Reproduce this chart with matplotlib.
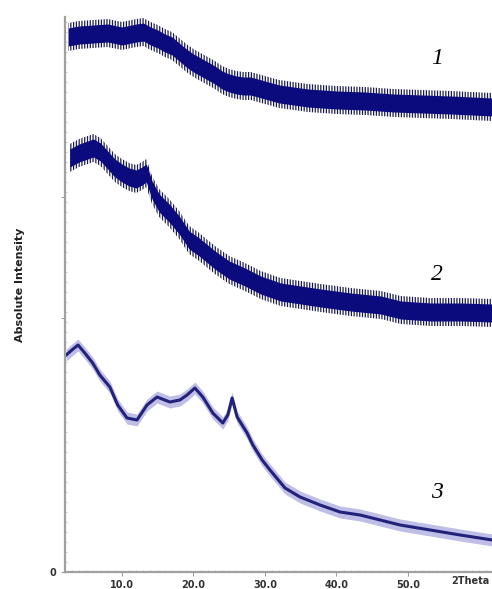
import numpy as np
import matplotlib.pyplot as plt

# diffractograms: 2theta (deg) and intensity (arb. units)
# pattern 1 (top)
tt1 = [2.5, 4, 6, 8, 10, 12, 13, 14, 15, 16, 17, 18, 19, 20, 21, 22, 23, 24,
       25, 26, 27, 28, 30, 32, 34, 36, 40, 44, 48, 52, 56, 61.8]
int1 = [535, 537, 538, 539, 536, 539, 540, 536, 533, 529, 526, 520, 514, 509,
        505, 501, 497, 492, 489, 487, 486, 486, 482, 478, 476, 474, 472, 471,
        469, 468, 467, 465]

# pattern 2 (middle)
tt2 = [2.7, 4, 6, 7, 8, 9, 10, 11, 12, 12.8, 13.4, 14.2, 15.2, 16.6, 18, 19.4,
       20.8, 23, 25, 27.2, 29.4, 32.2, 35, 37.8, 42, 46.2, 49, 53.2, 57.4, 61.8]
int2 = [414, 419, 424, 420, 412, 404, 399, 395, 393, 396, 399, 382, 369, 359,
        347, 332, 325, 312, 302, 295, 287, 280, 277, 274, 270, 267, 262, 260,
        260, 259]

# pattern 3 (bottom)
tt3 = [2.2, 3.0, 3.85, 4.8, 5.9, 6.9, 8.3, 9.4, 10.7, 12.1, 13.5, 14.9, 16.7,
       18.1, 19.1, 20.2, 21.3, 22.7, 24.1, 24.8, 25.4, 26.1, 27.5, 28.3, 29.6,
       30.7, 32.8, 34.9, 37.7, 40.5, 43.3, 46.1, 48.9, 53.1, 57.3, 61.8]
int3 = [217, 222, 227, 219, 209, 197, 185, 167, 154, 152, 167, 175, 170, 172,
        177, 184, 175, 159, 149, 157, 174, 155, 139, 127, 112, 102, 84, 75, 67,
        60, 57, 52, 47, 42, 37, 32]

xticks = [10, 20, 30, 40, 50]
xticklabels = ['10.0', '20.0', '30.0', '40.0', '50.0']
curve_labels = ['1', '2', '3']
label_y = [514, 297, 80]

navy = '#0b0b7e'
dark = '#1a1a50'

plt.rcParams['hatch.linewidth'] = 0.9
fig = plt.figure(figsize=(4.92, 5.89), dpi=100)
ax = fig.add_axes([65/492, 17/589, 1 - 65/492, 572/589])

# noisy thick patterns 1 and 2: spiky halo + solid core
for tt, yy in [(tt1, int1), (tt2, int2)]:
    tt = np.array(tt)
    yy = np.array(yy)
    ax.fill_between(tt, yy - 14, yy + 14, facecolor='none', edgecolor=dark,
                    hatch='||||||', linewidth=0)
    ax.fill_between(tt, yy - 9, yy + 9, color=navy, linewidth=0)

# thin pattern 3
tt = np.array(tt3)
yy = np.array(int3)
ax.fill_between(tt, yy - 6, yy + 6, color='#7070c8', alpha=0.45, linewidth=0)
ax.plot(tt, yy, color='#22227a', lw=2.2)

for lab, ly in zip(curve_labels, label_y):
    ax.text(54.05, ly, lab, fontsize=17, style='italic', family='Liberation Serif',
            ha='center', va='center', color='black')

ax.set_xlim(2.03, 61.75)
ax.set_ylim(0, 572)

for s in ['top', 'right']:
    ax.spines[s].set_visible(False)
for s in ['left', 'bottom']:
    ax.spines[s].set_color('#a0a0a0')
    ax.spines[s].set_linewidth(1.6)
ax.spines['left'].set_bounds(0, 555)

ax.set_xticks(xticks)
ax.set_xticklabels(xticklabels)
ax.set_xticks(np.arange(3, 62, 1), minor=True)
ax.set_yticks([0, 254, 375])
ax.set_yticklabels(['0', '', ''])
ax.set_yticks(np.arange(10, 555, 10), minor=True)
ax.tick_params(axis='both', which='major', length=3, color='#a0a0a0',
               labelsize=7, labelcolor='#333333', pad=3)
ax.tick_params(axis='both', which='minor', length=1.5, color='#c0c0c0',
               direction='in')
for t in ax.get_xticklabels() + ax.get_yticklabels():
    t.set_fontweight('bold')

ax.text(58.7, -4, '2Theta', fontsize=7, fontweight='bold', color='#333333',
        ha='center', va='top', clip_on=False)
ax.text(-0.105, 287, 'Absolute Intensity', transform=ax.get_yaxis_transform(),
        rotation=90, fontsize=8, fontweight='bold', color='#222222',
        ha='center', va='center')

fig.savefig('out.png', dpi=100)
